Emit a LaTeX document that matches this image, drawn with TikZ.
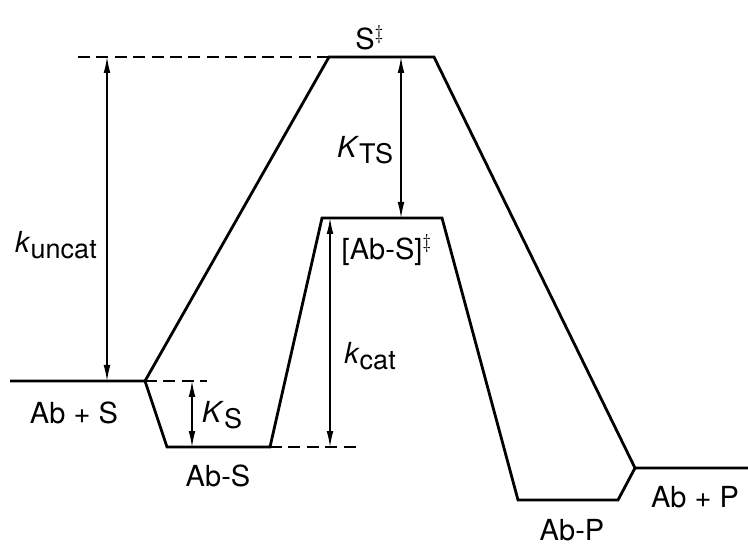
\documentclass[tikz,border=0pt]{standalone}
\usepackage{fontspec}
\setmainfont{TeX Gyre Heros}
\usetikzlibrary{arrows.meta}
\newcommand{\rate}[2]{\textit{#1}\raisebox{-3pt}{\fontsize{13.5}{15}\selectfont #2}}

\begin{document}
\begin{tikzpicture}[x=0.5pt,y=-0.5pt,>={Latex[length=8pt,width=3.4pt]},
 every node/.style={font=\fontsize{14.5}{17}\selectfont,inner sep=1pt},
 lvl/.style={line width=1.4pt,line join=miter},
 lvldash/.style={line width=1.4pt,dash pattern=on 6pt off 3.2pt},
 gap/.style={<->,line width=0.65pt}]
\useasboundingbox (0,0) rectangle (748,544);
% energy levels
\coordinate (ts1) at (329,57);  \coordinate (ts2) at (434,57);
\coordinate (ss1) at (10,381);  \coordinate (ss2) at (145,381);
\coordinate (es1) at (167,447); \coordinate (es2) at (270,447);
\coordinate (et1) at (322,218); \coordinate (et2) at (442,218);
\coordinate (ep1) at (518,500); \coordinate (ep2) at (618,500);
\coordinate (pp1) at (635,468); \coordinate (pp2) at (748,468);
% dashed references
\coordinate (tsd) at (78,57);
\coordinate (ssd) at (207,381);
\coordinate (esd) at (357,447);
\draw[lvldash] (tsd) -- (ts1);
\draw[lvldash] (ss2) -- (ssd);
\draw[lvldash] (es2) -- (esd);
% uncatalysed path
\draw[lvl] (ss1) -- (ss2) -- (ts1) -- (ts2) -- (pp1) -- (pp2);
% catalysed path
\draw[lvl] (ss2) -- (es1) -- (es2) -- (et1) -- (et2) -- (ep1) -- (ep2) -- (pp1);
% gaps
\coordinate (ku1) at (107,57);  \coordinate (ku2) at (107,381);
\coordinate (kt1) at (401,57);  \coordinate (kt2) at (401,218);
\coordinate (kb1) at (192,381); \coordinate (kb2) at (192,447);
\coordinate (kc1) at (330,218); \coordinate (kc2) at (330,447);
\draw[gap] (ku1) -- (ku2);
\draw[gap] (kt1) -- (kt2);
\draw[gap] (kb1) -- (kb2);
\draw[gap] (kc1) -- (kc2);
% labels
\node (lts) at (370,38) {S$^\ddagger$};
\node (lku) at (56,245) {\rate{k}{uncat}};
\node (lkt) at (365,150) {\rate{K}{TS}};
\node (let) at (387,250) {[Ab-S]$^\ddagger$};
\node (lkc) at (370,356) {\rate{k}{cat}};
\node (lss) at (74,413) {Ab + S};
\node (lkb) at (222,415) {\rate{K}{S}};
\node (les) at (218,476) {Ab-S};
\node (lpp) at (695,497) {Ab + P};
\node (lep) at (572,530) {Ab-P};
\end{tikzpicture}
\end{document}
